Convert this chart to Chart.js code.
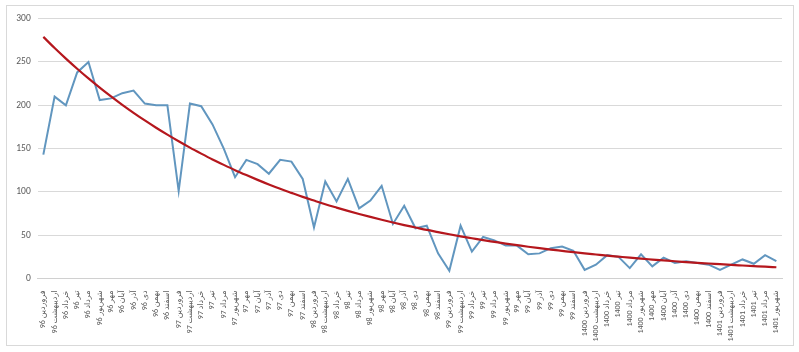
<!DOCTYPE html>
<html>
<head>
<meta charset="utf-8">
<script src="https://cdn.jsdelivr.net/npm/chart.js@4.4.1/dist/chart.umd.min.js"></script>
<style>
  html, body { margin: 0; padding: 0; background: #fff; }
  #frame {
    position: absolute; left: 6px; top: 5px;
    width: 786px; height: 339px;
    border: 1px solid #d9d9d9;
  }
  canvas { display: block; }
</style>
</head>
<body>
<div id="frame"><canvas id="chart" width="786" height="339"></canvas></div>
<script>
// Persian months and years shown on the x axis
const months = ["فروردین", "اردیبهشت", "خرداد", "تیر", "مرداد", "شهریور", "مهر", "آبان", "آذر", "دی", "بهمن", "اسفند"];
const years = ["96", "97", "98", "99", "1400", "1401"];
const monthsInLastYear = 6;

// Monthly values (blue line)
const values = [
    143, 210, 200, 238, 250, 206, 208, 214, 217, 202,
    200, 200, 101, 202, 199, 178, 150, 117, 137, 132,
    121, 137, 135, 115, 59, 112, 89, 115, 81, 90,
    107, 63, 84, 58, 61, 29, 9, 61, 31, 48,
    44, 38, 38, 28, 29, 35, 37, 32, 10, 16,
    27, 25, 12, 28, 14, 24, 18, 20, 18, 16,
    10, 16, 22, 17, 27, 20
];

// Trend line (red) at each month
const trend = [
    279.0, 266.1, 253.9, 242.2, 231.0, 220.4, 210.2, 200.5, 191.3, 182.5,
    174.1, 166.1, 158.4, 151.1, 144.2, 137.5, 131.2, 125.1, 119.4, 113.9,
    108.6, 103.6, 98.9, 94.3, 90.0, 85.8, 81.9, 78.1, 74.5, 71.1,
    67.8, 64.7, 61.7, 58.9, 56.1, 53.6, 51.1, 48.7, 46.5, 44.3,
    42.3, 40.3, 38.5, 36.7, 35.0, 33.4, 31.9, 30.4, 29.0, 27.7,
    26.4, 25.2, 24.0, 22.9, 21.9, 20.9, 19.9, 19.0, 18.1, 17.3,
    16.5, 15.7, 15.0, 14.3, 13.6, 13.0
];

const yTicks = [0, 50, 100, 150, 200, 250, 300];

const labels = [];
years.forEach((year, i) => {
    const count = i === years.length - 1 ? monthsInLastYear : months.length;
    for (let m = 0; m < count; m++) labels.push(`${months[m]} ${year}`);
});

const font = "Calibri, 'Liberation Sans', 'DejaVu Sans', sans-serif";

new Chart(document.getElementById("chart"), {
    type: "line",
    data: {
        labels,
        datasets: [
            {
                label: "trend",
                data: trend,
                borderColor: "#b5171d",
                borderWidth: 2.2,
                pointRadius: 0,
                cubicInterpolationMode: "monotone",
                fill: false
            },
            {
                label: "values",
                data: values,
                borderColor: "#6196bf",
                borderWidth: 2,
                pointRadius: 0,
                tension: 0,
                fill: false
            }
        ]
    },
    options: {
        responsive: false,
        animation: false,
        layout: { padding: { top: 11, right: 11, left: 0, bottom: 0 } },
        plugins: { legend: { display: false }, tooltip: { enabled: false } },
        scales: {
            x: {
                offset: true,
                grid: { display: false },
                border: { color: "#d0d0d0" },
                ticks: {
                    autoSkip: false,
                    minRotation: 90,
                    maxRotation: 90,
                    padding: 4,
                    color: "#595959",
                    font: { family: font, size: 8 }
                },
                afterFit: (scale) => { scale.height = 66.5; }
            },
            y: {
                min: 0,
                max: 300,
                afterBuildTicks: (scale) => { scale.ticks = yTicks.map(v => ({ value: v })); },
                grid: { color: "#d9d9d9", drawTicks: false },
                border: { display: false },
                ticks: {
                    padding: 7,
                    color: "#595959",
                    font: { family: font, size: 9.5 }
                },
                afterFit: (scale) => { scale.width = 30.7; }
            }
        }
    }
});
</script>
</body>
</html>
